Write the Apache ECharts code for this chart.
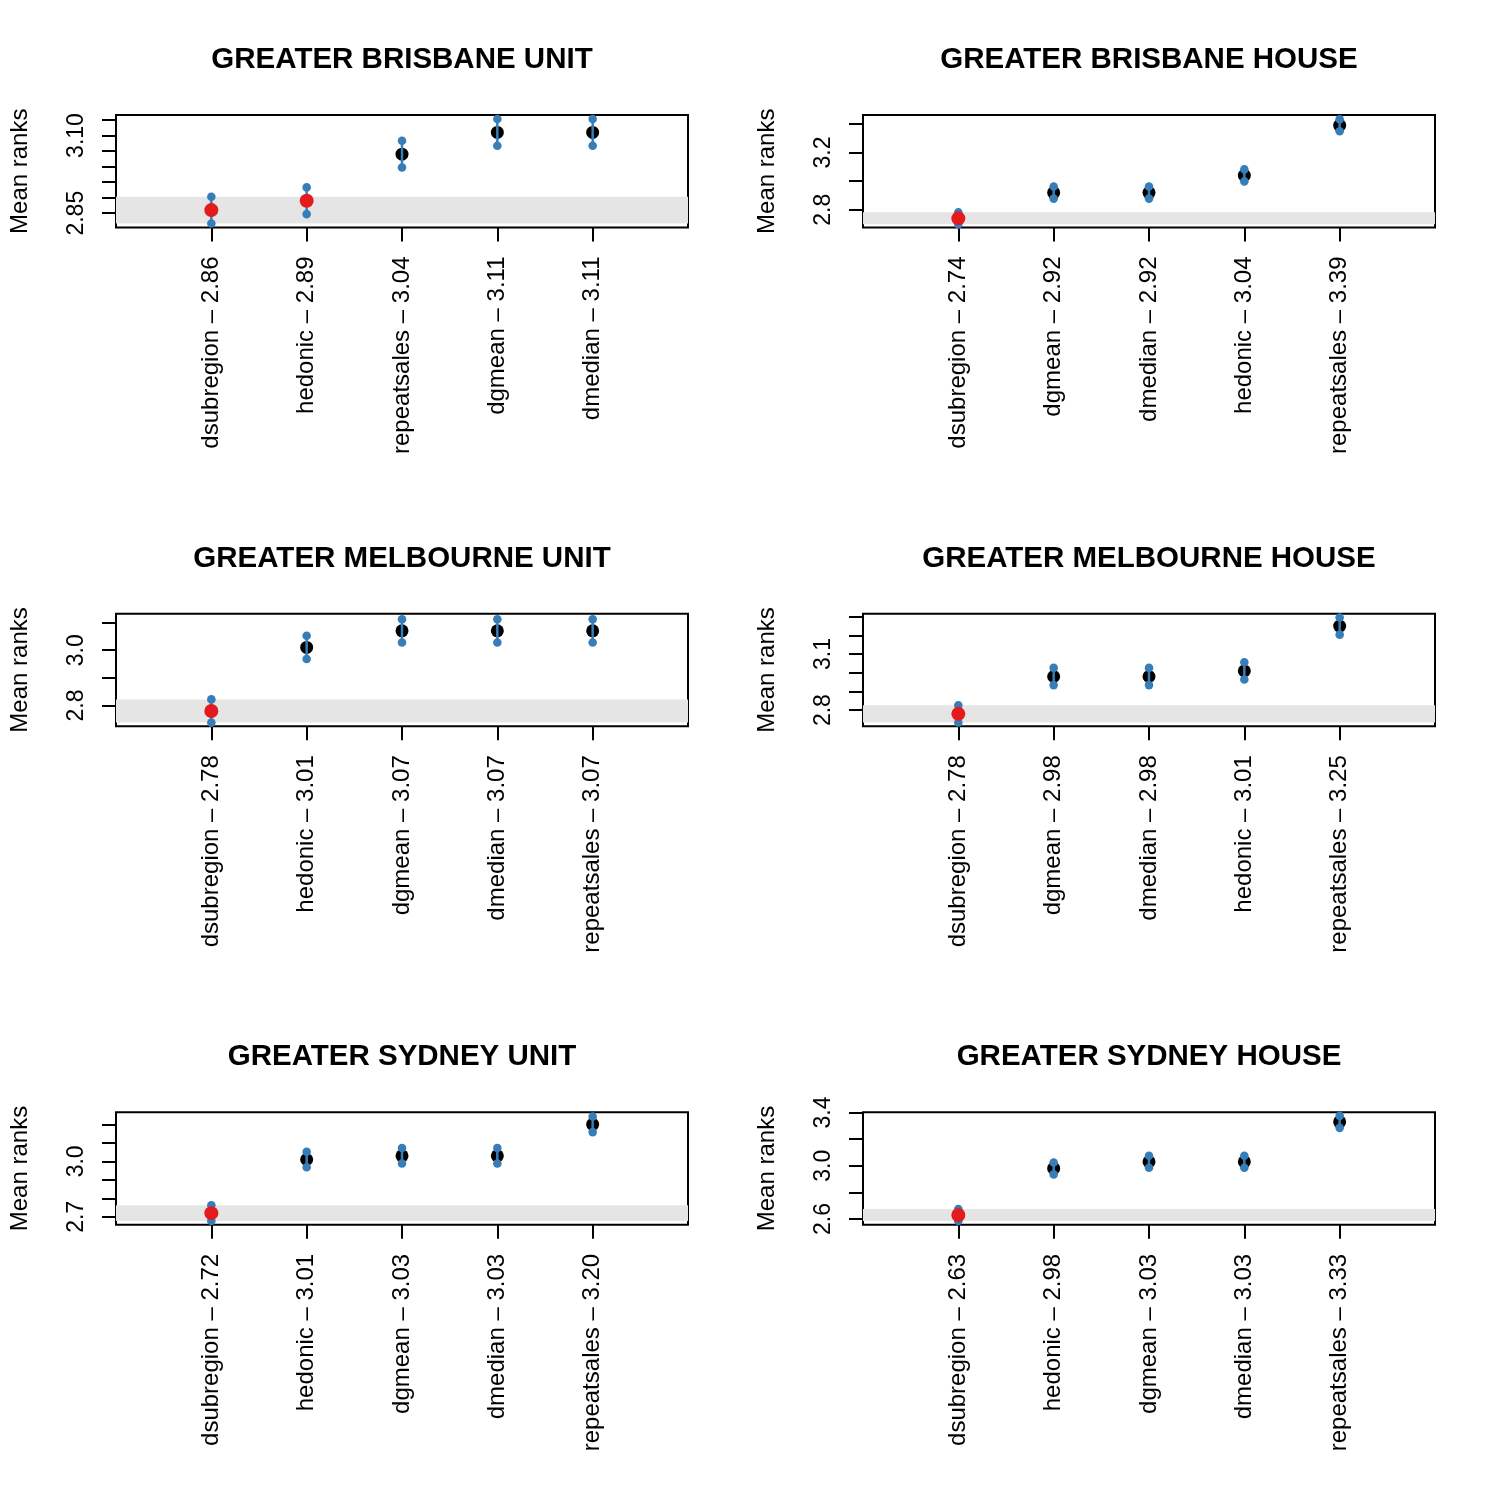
<!DOCTYPE html>
<html>
<head>
<meta charset="utf-8">
<script src="https://cdn.jsdelivr.net/npm/echarts@6/dist/echarts.min.js"></script>
<style>
  html, body { margin: 0; padding: 0; background: #fff; }
  #chart { width: 1495px; height: 1495px; }
</style>
</head>
<body>
<div id="chart"></div>
<script>
// panel titles, in drawing order (row by row)
const panelTitles = [
  'GREATER BRISBANE UNIT', 'GREATER BRISBANE HOUSE',
  'GREATER MELBOURNE UNIT', 'GREATER MELBOURNE HOUSE',
  'GREATER SYDNEY UNIT', 'GREATER SYDNEY HOUSE'
]

// methods sorted by mean rank, one list per panel
const bneUnitMethods = ['dsubregion', 'hedonic', 'repeatsales', 'dgmean', 'dmedian']
const bneUnitRanks = [2.86, 2.89, 3.04, 3.11, 3.11]
const bneHouseMethods = ['dsubregion', 'dgmean', 'dmedian', 'hedonic', 'repeatsales']
const bneHouseRanks = [2.74, 2.92, 2.92, 3.04, 3.39]
const melUnitMethods = ['dsubregion', 'hedonic', 'dgmean', 'dmedian', 'repeatsales']
const melUnitRanks = [2.78, 3.01, 3.07, 3.07, 3.07]
const melHouseMethods = ['dsubregion', 'dgmean', 'dmedian', 'hedonic', 'repeatsales']
const melHouseRanks = [2.78, 2.98, 2.98, 3.01, 3.25]
const sydUnitMethods = ['dsubregion', 'hedonic', 'dgmean', 'dmedian', 'repeatsales']
const sydUnitRanks = [2.72, 3.01, 3.03, 3.03, 3.20]
const sydHouseMethods = ['dsubregion', 'hedonic', 'dgmean', 'dmedian', 'repeatsales']
const sydHouseRanks = [2.63, 2.98, 3.03, 3.03, 3.33]

// half critical distance of each panel (interval = rank +/- this)
const halfCD = [0.043, 0.042, 0.042, 0.046, 0.042, 0.045]

// y axis: range, ticks and labelled ticks
const yRanges = [[2.804, 3.166], [2.676, 3.462], [2.725, 3.132], [2.714, 3.316], [2.657, 3.265], [2.556, 3.402]]
const yTicks = [
  [2.85, 2.90, 2.95, 3.00, 3.05, 3.10, 3.15],
  [2.8, 3.0, 3.2, 3.4],
  [2.8, 2.9, 3.0, 3.1],
  [2.8, 2.9, 3.0, 3.1, 3.2, 3.3],
  [2.7, 2.8, 2.9, 3.0, 3.1, 3.2],
  [2.6, 2.8, 3.0, 3.2, 3.4]
]
const yTickLabels = [[2.85, 3.10], [2.8, 3.2], [2.8, 3.0], [2.8, 3.1], [2.7, 3.0], [2.6, 3.0, 3.4]]
const yDigits = [2, 1, 1, 1, 1, 1]

const methodLists = [bneUnitMethods, bneHouseMethods, melUnitMethods, melHouseMethods, sydUnitMethods, sydHouseMethods]
const rankLists = [bneUnitRanks, bneHouseRanks, melUnitRanks, melHouseRanks, sydUnitRanks, sydHouseRanks]

const FONT = 'Liberation Sans, Arial, Helvetica, sans-serif'
const BLUE = '#377eb8'
const RED = '#e41a1c'

const colLeft = [116, 863]
const rowTop = [115, 613.7, 1112.3]
const boxW = 572
const boxH = 112.5

const grids = [], xAxes = [], yAxes = [], titles = [], series = []

panelTitles.forEach((title, i) => {
  const left = colLeft[i % 2]
  const top = rowTop[Math.floor(i / 2)]
  const methods = methodLists[i]
  const ranks = rankLists[i]
  const cd = halfCD[i]
  const best = ranks[0]

  grids.push({
    left: left, top: top, width: boxW, height: boxH,
    show: true, borderColor: '#000', borderWidth: 2, backgroundColor: 'transparent'
  })

  titles.push({
    text: title,
    left: left + boxW / 2,
    top: top - 70,
    padding: 0,
    textAlign: 'center',
    textStyle: {fontFamily: FONT, fontSize: 29.5, fontWeight: 'bold', color: '#000'}
  })

  xAxes.push({
    gridIndex: i,
    type: 'value',
    min: 0,
    max: 6,
    axisLine: {show: false},
    splitLine: {show: false},
    axisTick: {
      show: true, length: 14,
      customValues: [1, 2, 3, 4, 5],
      lineStyle: {color: '#000', width: 2}
    },
    axisLabel: {
      customValues: [1, 2, 3, 4, 5],
      rotate: 90,
      margin: 29,
      fontFamily: FONT,
      fontSize: 24,
      color: '#000',
      formatter: v => methods[v - 1] + ' \u2013 ' + ranks[v - 1].toFixed(2)
    }
  })

  yAxes.push({
    gridIndex: i,
    type: 'value',
    min: yRanges[i][0],
    max: yRanges[i][1],
    name: 'Mean ranks',
    nameLocation: 'middle',
    nameRotate: 90,
    nameGap: 84,
    nameTextStyle: {fontFamily: FONT, fontSize: 24, color: '#000'},
    axisLine: {show: false},
    splitLine: {show: false},
    axisTick: {
      show: true, length: 14,
      customValues: yTicks[i],
      lineStyle: {color: '#000', width: 2}
    },
    axisLabel: {
      customValues: yTickLabels[i],
      rotate: 90,
      margin: 28,
      fontFamily: FONT,
      fontSize: 23,
      color: '#000',
      formatter: v => v.toFixed(yDigits[i])
    }
  })

  // methods whose interval reaches the band of the best one are red
  const blackPts = [], redPts = [], intervals = []
  ranks.forEach((r, k) => {
    const pt = [k + 1, r]
    if (r - cd <= best + cd) redPts.push(pt)
    else blackPts.push(pt)
    intervals.push([k + 1, r - cd, r + cd])
  })

  // grey band of the best method
  series.push({
    type: 'scatter', xAxisIndex: i, yAxisIndex: i, data: [], z: 1, silent: true,
    markArea: {
      silent: true,
      itemStyle: {color: '#e5e5e5'},
      data: [[{yAxis: best - cd}, {yAxis: best + cd}]]
    }
  })

  series.push({
    type: 'scatter', xAxisIndex: i, yAxisIndex: i, data: blackPts, z: 2,
    symbolSize: 13, itemStyle: {color: '#000', opacity: 1}
  })

  series.push({
    type: 'custom', xAxisIndex: i, yAxisIndex: i, data: intervals, z: 3,
    renderItem: (params, api) => {
      const x = api.value(0)
      const lo = api.coord([x, api.value(1)])
      const hi = api.coord([x, api.value(2)])
      return {
        type: 'group',
        children: [
          {type: 'line', shape: {x1: lo[0], y1: lo[1], x2: hi[0], y2: hi[1]}, style: {stroke: BLUE, lineWidth: 2.5}},
          {type: 'circle', shape: {cx: lo[0], cy: lo[1], r: 4.3}, style: {fill: BLUE}},
          {type: 'circle', shape: {cx: hi[0], cy: hi[1], r: 4.3}, style: {fill: BLUE}}
        ]
      }
    }
  })

  series.push({
    type: 'scatter', xAxisIndex: i, yAxisIndex: i, data: redPts, z: 4,
    symbolSize: 14, itemStyle: {color: RED, opacity: 1}
  })
})

const chart = echarts.init(document.getElementById('chart'), null, {renderer: 'canvas'})
chart.setOption({
  backgroundColor: '#ffffff',
  animation: false,
  title: titles,
  grid: grids,
  xAxis: xAxes,
  yAxis: yAxes,
  series: series
})
</script>
</body>
</html>
